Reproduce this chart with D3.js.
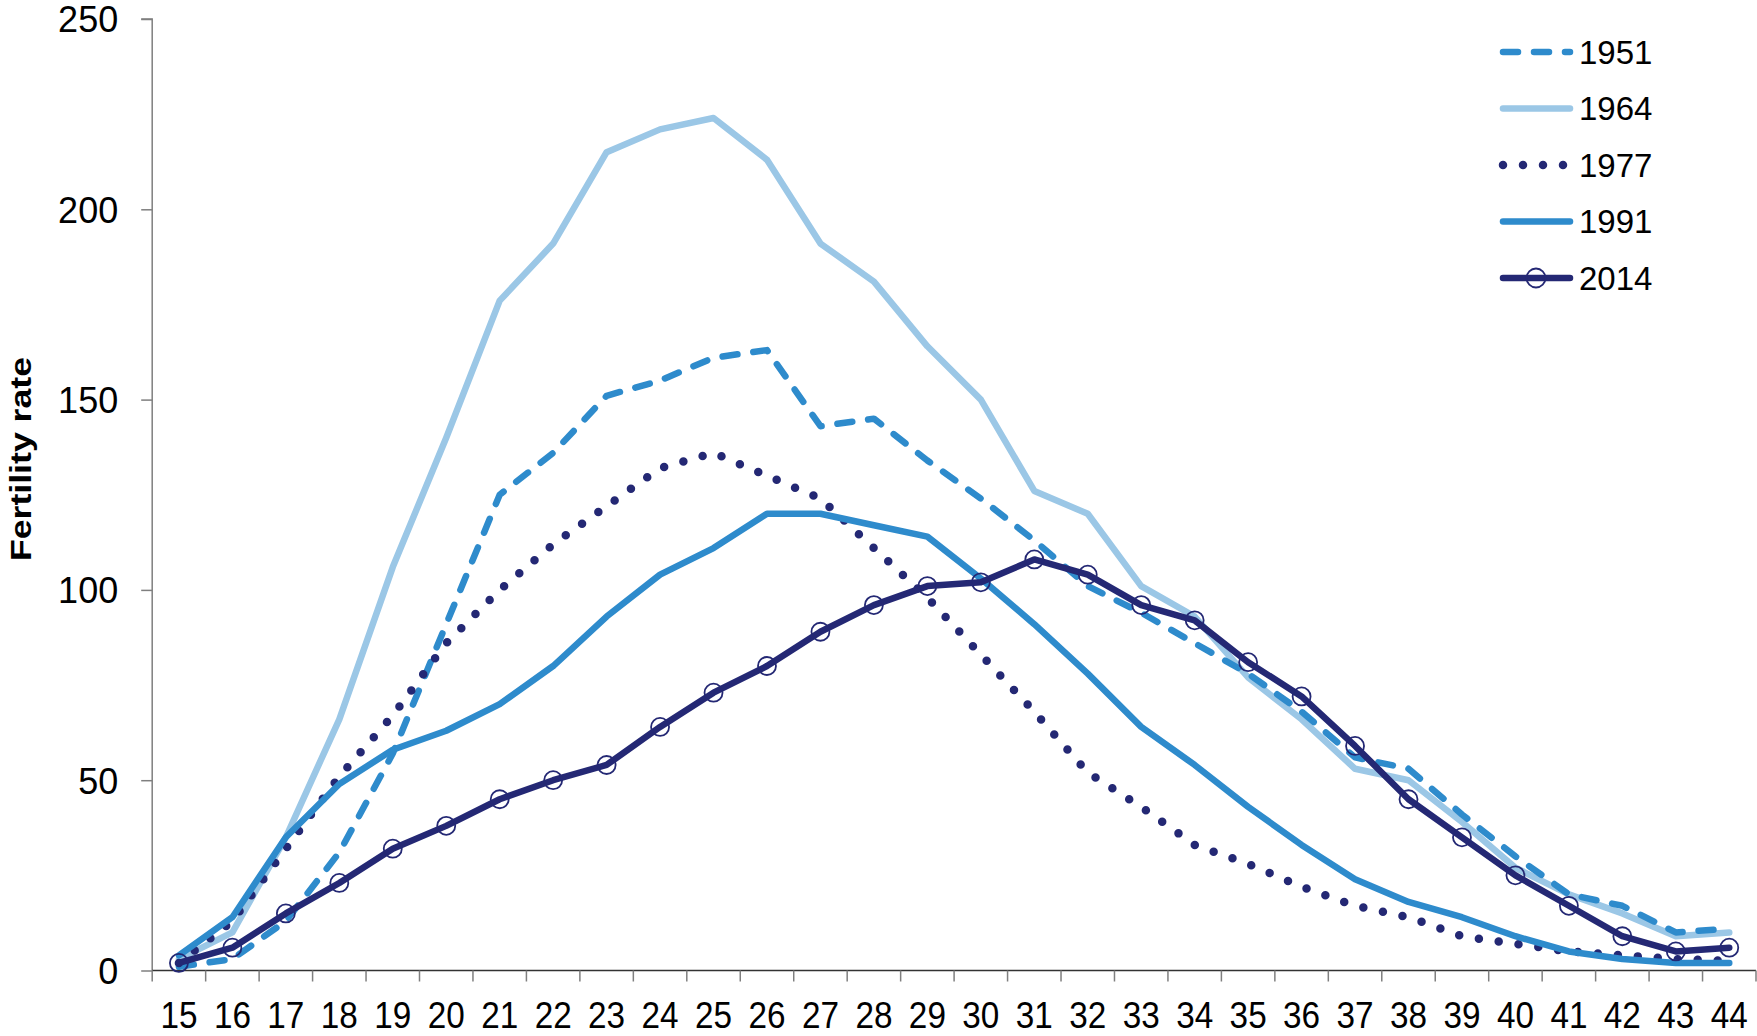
<!DOCTYPE html>
<html>
<head>
<meta charset="utf-8">
<script src="https://cdn.jsdelivr.net/npm/d3@7"></script>
<style>
  html, body { margin: 0; padding: 0; background: #fff; }
  svg { display: block; font-family: "Liberation Sans", Arial, sans-serif; }
</style>
</head>
<body>
<svg id="chart" width="1757" height="1036"></svg>
<script>
const ages = [15,16,17,18,19,20,21,22,23,24,25,26,27,28,29,30,31,32,33,34,35,36,37,38,39,40,41,42,43,44];
const s1951 = [1,3,13,31,57,91,125,136,151,155,161,163,143,145,134,124,113,101,94,86,78,68,56,53,41,30,20,17,10,11];
const s1964 = [3,10,35,66,106,140,176,191,215,221,224,213,191,181,164,150,126,120,101,93,77,66,53,50,39,27,20,15,9,10];
const s1977 = [2,13,32,51,67,86,100,112,122,132,136,130,124,111,98,83,68,52,43,33,28,22,17,14,9,7,5,4,3,2.5];
const s1991 = [4,14,35,49,58,63,70,80,93,104,111,120,120,117,114,103,91,78,64,54,43,33,24,18,14,9,5,3,2,2];
const s2014 = [2,6,15,23,32,38,45,50,54,64,73,80,89,96,101,102,108,104,96,92,81,72,59,45,35,25,17,9,5,6];
const yTicks = [0,50,100,150,200,250];
const seriesNames = ["1951","1964","1977","1991","2014"];
const yTitle = "Fertility rate";

(function () {
const styles = {
  "1951": {color:"#2E8BCC", width:6.5, dash:"15,16", marker:false},
  "1964": {color:"#9BC7E6", width:6.5, dash:null, marker:false},
  "1977": {color:"#242874", width:8.5, dash:"0,20", marker:false},
  "1991": {color:"#2E8BCC", width:6.5, dash:null, marker:false},
  "2014": {color:"#242874", width:6.5, dash:null, marker:true}
};
const dataBy = {"1951":s1951,"1964":s1964,"1977":s1977,"1991":s1991,"2014":s2014};

const svg = d3.select("#chart");
const pLeft = 152.2, pRight = 1756, pTop = 19, pBottom = 970.5;

const x = d3.scaleBand().domain(ages).range([pLeft, pRight]).padding(0);
const y = d3.scaleLinear().domain([0,250]).range([pBottom, pTop]);
const cx = a => x(a) + x.bandwidth()/2;

// Y axis
const yAxis = svg.append("g").attr("transform", `translate(${pLeft},0)`)
  .call(d3.axisLeft(y).tickValues(yTicks).tickSize(11).tickPadding(23));
yAxis.select(".domain").attr("stroke","#7f7f7f").attr("stroke-width",1.5).attr("d", `M-11,${y(250)}H0V${pBottom}`);
yAxis.selectAll(".tick line").attr("stroke","#7f7f7f").attr("stroke-width",1.5);
yAxis.selectAll(".tick text").attr("font-size",36).attr("fill","#000")
  .attr("font-family",'"Liberation Sans", Arial, sans-serif').attr("dy","0.36em");

// X axis
const xg = svg.append("g").attr("transform", `translate(0,${pBottom})`);
xg.append("line").attr("x1",pLeft).attr("x2",pRight).attr("y1",0).attr("y2",0)
  .attr("stroke","#333").attr("stroke-width",1.6);
const bounds = ages.map(a => x(a)).concat([pRight]);
xg.selectAll("line.tk").data(bounds).enter().append("line").attr("class","tk")
  .attr("x1",d=>d).attr("x2",d=>d).attr("y1",0).attr("y2",11)
  .attr("stroke","#7f7f7f").attr("stroke-width",1.5);
xg.selectAll("text").data(ages).enter().append("text")
  .attr("transform", d => `translate(${cx(d)},57.5) scale(0.9,1)`)
  .attr("text-anchor","middle").attr("font-size",37).attr("fill","#000")
  .text(d => d);

// Y title
svg.append("text")
  .attr("transform","translate(31,459) rotate(-90)")
  .attr("text-anchor","middle").attr("font-size",30).attr("font-weight","bold")
  .attr("textLength",204).attr("lengthAdjust","spacingAndGlyphs")
  .text(yTitle);

// Lines
const line = d3.line().x((d,i)=>cx(ages[i])).y(d=>y(d));
const drawOrder = ["1964","1951","1977","1991","2014"];
drawOrder.forEach(name => {
  const st = styles[name];
  const p = svg.append("path").datum(dataBy[name]).attr("d", line)
    .attr("fill","none").attr("stroke",st.color).attr("stroke-width",st.width)
    .attr("stroke-linejoin","round").attr("stroke-linecap","round");
  if (st.dash) p.attr("stroke-dasharray", st.dash);
  if (st.marker) {
    svg.append("g").selectAll("circle").data(dataBy[name]).enter().append("circle")
      .attr("cx",(d,i)=>cx(ages[i])).attr("cy",d=>y(d)).attr("r",9)
      .attr("fill","none").attr("stroke",st.color).attr("stroke-width",1.8);
  }
});

// Legend
const lg = svg.append("g");
seriesNames.forEach((name,i) => {
  const st = styles[name];
  const ry = 52 + i*56.5;
  const ln = lg.append("line").attr("x1",1503).attr("x2",1570).attr("y1",ry).attr("y2",ry)
    .attr("stroke",st.color).attr("stroke-width",st.width).attr("stroke-linecap","round");
  if (st.dash) ln.attr("stroke-dasharray", st.dash);
  if (name === "1977") ln.attr("x1",1503).attr("x2",1564);
  if (st.marker) {
    lg.append("circle").attr("cx",1536).attr("cy",ry).attr("r",9.5)
      .attr("fill","none").attr("stroke",st.color).attr("stroke-width",1.8);
  }
  lg.append("text").attr("x",1579).attr("y",ry).attr("dy","0.36em")
    .attr("font-size",33).attr("fill","#000").text(name);
});
})();
</script>
</body>
</html>
